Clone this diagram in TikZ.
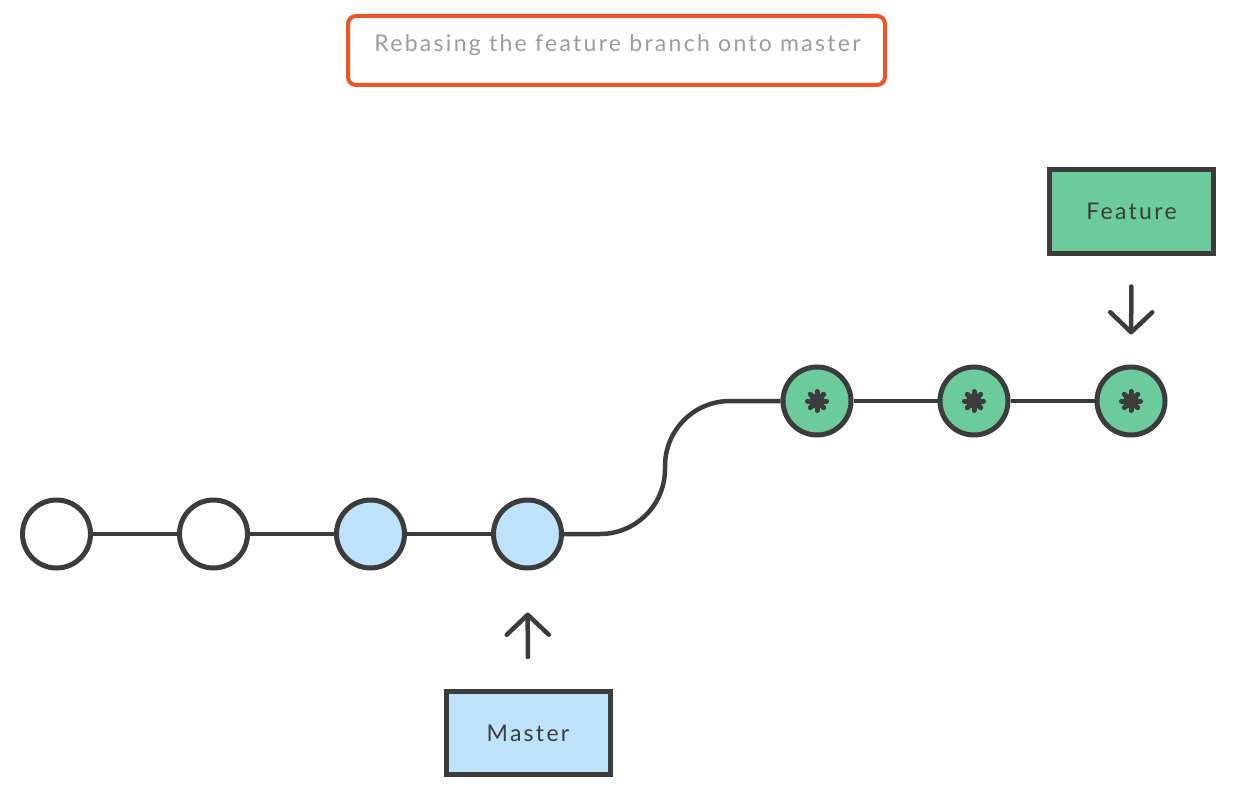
\documentclass[tikz,border=0pt]{standalone}
\usepackage{fontspec}
\setmainfont{Lato}[LetterSpace=10]
\usetikzlibrary{arrows.meta,calc}
\definecolor{ink}{HTML}{3C3C3C}
\definecolor{blu}{HTML}{BEE2F9}
\definecolor{grn}{HTML}{6CCB9C}
\definecolor{org}{HTML}{EF5428}
\definecolor{gry}{HTML}{9C9C9C}
\tikzset{
  commit/.style={circle,draw=ink,line width=5pt,minimum size=68pt,inner sep=0pt},
  link/.style={draw=ink,line width=4.5pt},
  label box/.style={rectangle,draw=ink,line width=5pt,minimum width=164pt,minimum height=83pt,inner sep=0pt,text=ink,font=\fontsize{23pt}{26pt}\selectfont},
  arr/.style={draw=ink,line width=4.5pt,line cap=round,-{Straight Barb[length=20pt,width=42pt,round]}},
  star/.style={ink,line width=5pt,line cap=round}
}
\begin{document}
\begin{tikzpicture}[x=1pt,y=-1pt]
\useasboundingbox (0,0) rectangle (1246,802);
\fill[white] (0,0) rectangle (1246,802);
% title
\node[draw=org,line width=4pt,rounded corners=8pt,minimum width=537pt,minimum height=69pt,inner sep=0pt] (tbox) at (616.5,50.5) {};
\node[text=gry,font=\fontsize{23pt}{26pt}\selectfont,anchor=center] (title) at (617.5,45) {Rebasing the feature branch onto master};
% commits
\node[commit,fill=white] (c1) at (56.5,534) {};
\node[commit,fill=white] (c2) at (213.5,534) {};
\node[commit,fill=blu] (c3) at (370.5,534) {};
\node[commit,fill=blu] (c4) at (527.5,534) {};
\node[commit,fill=grn] (f1) at (817,401) {};
\node[commit,fill=grn] (f2) at (974,401) {};
\node[commit,fill=grn] (f3) at (1131,401) {};
% links
\draw[link] (c1) -- (c2);
\draw[link] (c2) -- (c3);
\draw[link] (c3) -- (c4);
\draw[link] (f1) -- (f2);
\draw[link] (f2) -- (f3);
\coordinate (k1) at (600,534);
\coordinate (k2) at (665,466);
\draw[link] (c4.east) -- (k1) arc[start angle=90,end angle=0,radius=65] -- (k2) arc[start angle=180,end angle=270,radius=65] -- (f1.west);
% asterisks
\foreach \n in {f1,f2,f3}{
  \fill[ink] (\n) circle (7.5pt);
  \foreach \a in {0,45,90,135}{
    \draw[star] ($(\n)+(\a:9.5)$) -- ($(\n)+(\a+180:9.5)$);
  }
}
% labels
\node[label box,fill=grn] (fbox) at (1131.5,211.5) {\raisebox{-2pt}{Feature}};
\node[label box,fill=blu] (mbox) at (528,733) {\raisebox{-2pt}{Master}};
\draw[arr,shorten <=31pt,shorten >=30pt] (fbox) -- (f3);
\draw[arr,shorten <=32pt,shorten >=42pt] (mbox) -- (c4);
\end{tikzpicture}
\end{document}
